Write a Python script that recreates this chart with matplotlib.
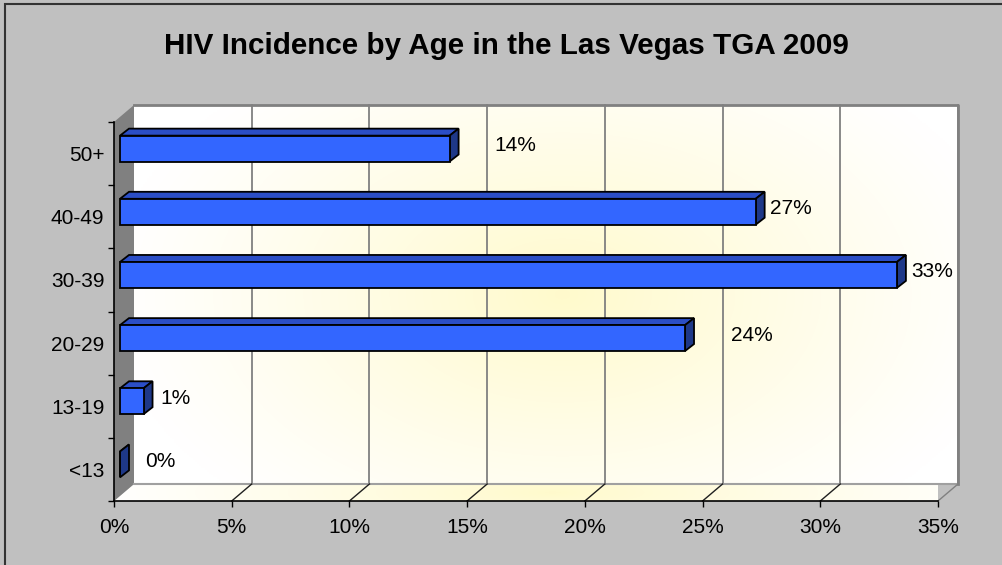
import numpy as np
import matplotlib.pyplot as plt
from matplotlib import transforms
from matplotlib.patches import Polygon, Rectangle
from matplotlib.ticker import FixedLocator, NullFormatter

plt.rcParams['font.family'] = ['Liberation Sans', 'DejaVu Sans']

# data (bottom to top, as drawn)
categories = ['<13', '13-19', '20-29', '30-39', '40-49', '50+']
values = [0, 1, 24, 33, 27, 14]
value_labels = ['0%', '1%', '24%', '33%', '27%', '14%']
x_ticks = [0, 5, 10, 15, 20, 25, 30, 35]
x_tick_labels = ['0%', '5%', '10%', '15%', '20%', '25%', '30%', '35%']
title = 'HIV Incidence by Age in the Las Vegas TGA 2009'

# pixel gaps of each value label from its bar end (excel places them unevenly)
label_gap = [25, 17, 46, 14, 14, 45]

W, H = 1003, 565
WX, WY = 20, 17      # wall depth in px
BX, BY = 6, 5        # bar front offset from front plane
DX, DY = 9, 7        # bar depth
bar_h = 0.41

fig = plt.figure(figsize=(W / 100, H / 100), dpi=100, facecolor='#C0C0C0')
ax = fig.add_axes([114 / W, (H - 501) / H, (938 - 114) / W, (501 - 122) / H])
ax.set_facecolor('none')


def shift(dx, dy):
    return ax.transData + transforms.ScaledTranslation(dx / 100, dy / 100, fig.dpi_scale_trans)


def px(v, c):
    return np.array(ax.transData.transform((v, c)))


ident = transforms.IdentityTransform()

# radial-ish yellow gradient for walls
gy, gx = np.mgrid[0:1:200j, 0:1:400j]
r = np.sqrt(((gx - 0.52) / 0.55) ** 2 + ((gy - 0.5) / 0.75) ** 2)
t = np.clip(1 - r, 0, 1) ** 1.1
white = np.array([1.0, 1.0, 1.0])
yellow = np.array([1.0, 0.98, 0.80])
grad = white[None, None, :] * (1 - t[..., None]) + yellow[None, None, :] * t[..., None]

ax.set_xlim(0, 35)
ax.set_ylim(-0.5, 5.5)

# back wall
ax.imshow(grad, extent=(0, 35, -0.5, 5.5), transform=shift(WX, WY), aspect='auto',
          zorder=0, clip_on=False, interpolation='bilinear')
ax.set_xlim(0, 35)
ax.set_ylim(-0.5, 5.5)

bl = px(0, -0.5)
br = px(35, -0.5)
tl = px(0, 5.5)
tr = px(35, 5.5)
d = np.array([WX, WY])

# floor
floor = Polygon([bl, br, br + d, bl + d], closed=True, transform=ident,
                facecolor='none', edgecolor='none', clip_on=False)
ax.add_patch(floor)
fimg = ax.imshow(grad[80:120, :, :], extent=(bl[0], br[0] + WX, bl[1], bl[1] + WY),
                 transform=ident, aspect='auto', zorder=0.5, clip_on=True,
                 interpolation='bilinear')
fimg.set_clip_path(floor)
ax.set_xlim(0, 35)
ax.set_ylim(-0.5, 5.5)

# left wall
ax.add_patch(Polygon([bl, tl, tl + d, bl + d], closed=True, transform=ident,
                     facecolor='#808080', edgecolor='none', zorder=1, clip_on=False))

# back wall gridlines + floor diagonals
for v in x_ticks[1:]:
    b = px(v, -0.5)
    tp = px(v, 5.5)
    ax.plot([b[0] + WX, tp[0] + WX], [b[1] + WY, tp[1] + WY], color='#808080', lw=1.3,
            transform=ident, zorder=1.5, clip_on=False)
    ax.plot([b[0], b[0] + WX], [b[1], b[1] + WY], color='#202020' if v < 35 else '#808080',
            lw=1.0, transform=ident, zorder=1.6, clip_on=False)
# back wall outline (bottom, top, right)
ax.plot([bl[0] + WX, br[0] + WX], [bl[1] + WY, br[1] + WY], color='#A0A0A0', lw=1.5,
        transform=ident, zorder=1.5, clip_on=False)
ax.plot([tl[0] + WX, tr[0] + WX, br[0] + WX], [tl[1] + WY, tr[1] + WY, br[1] + WY],
        color='#808080', lw=2, transform=ident, zorder=1.5, clip_on=False)

# axes styling
for s in ['top', 'right']:
    ax.spines[s].set_visible(False)
for s in ['left', 'bottom']:
    ax.spines[s].set_color('black')
    ax.spines[s].set_linewidth(1.2)
    ax.spines[s].set_zorder(2.5)
ax.set_xticks(x_ticks)
ax.set_xticklabels(x_tick_labels, fontsize=15)
ax.tick_params(axis='x', direction='out', length=4.3, width=1, pad=8, colors='black')
ax.yaxis.set_major_locator(FixedLocator(np.arange(-0.5, 6, 1)))
ax.yaxis.set_major_formatter(NullFormatter())
ax.yaxis.set_minor_locator(FixedLocator(range(len(categories))))
ax.set_yticklabels(categories, minor=True, fontsize=15)
ax.tick_params(axis='y', which='major', direction='out', length=4.3, width=1)
ax.tick_params(axis='y', which='minor', length=0, pad=7)

# bars: front faces via barh, top/side faces as polygons
ax.barh(range(len(categories)), values, height=bar_h, left=0, color='#3366FF',
        edgecolor='black', linewidth=1.3, transform=shift(BX, BY), zorder=4, clip_on=False)
off = np.array([BX, BY])
dep = np.array([DX, DY])
for i, v in enumerate(values):
    a = px(0, i + bar_h / 2) + off
    b = px(v, i + bar_h / 2) + off
    c = px(v, i - bar_h / 2) + off
    ax.add_patch(Polygon([a, b, b + dep, a + dep], closed=True, transform=ident,
                         facecolor='#2B4EC6', edgecolor='black', lw=1.3, zorder=3.5,
                         clip_on=False, joinstyle='miter'))
    ax.add_patch(Polygon([b, c, c + dep, b + dep], closed=True, transform=ident,
                         facecolor='#1E3888', edgecolor='black', lw=1.3, zorder=3.6,
                         clip_on=False, joinstyle='miter'))
    ax.text(v, i, value_labels[i], transform=shift(BX + label_gap[i], BY + 3),
            ha='left', va='center', fontsize=15, zorder=5)

ax.set_xlim(0, 35)
ax.set_ylim(-0.5, 5.5)

fig.text(506 / W, 1 - 54 / H, title, ha='center', va='baseline', fontsize=21.3,
         fontweight='bold')

fig.add_artist(Rectangle((5.5 / W, -0.1), 1.2, 1 - 3.5 / H + 0.1, transform=fig.transFigure,
                         facecolor='none', edgecolor='#333333', lw=1.5))

fig.savefig('out.png', dpi=100, facecolor=fig.get_facecolor())
